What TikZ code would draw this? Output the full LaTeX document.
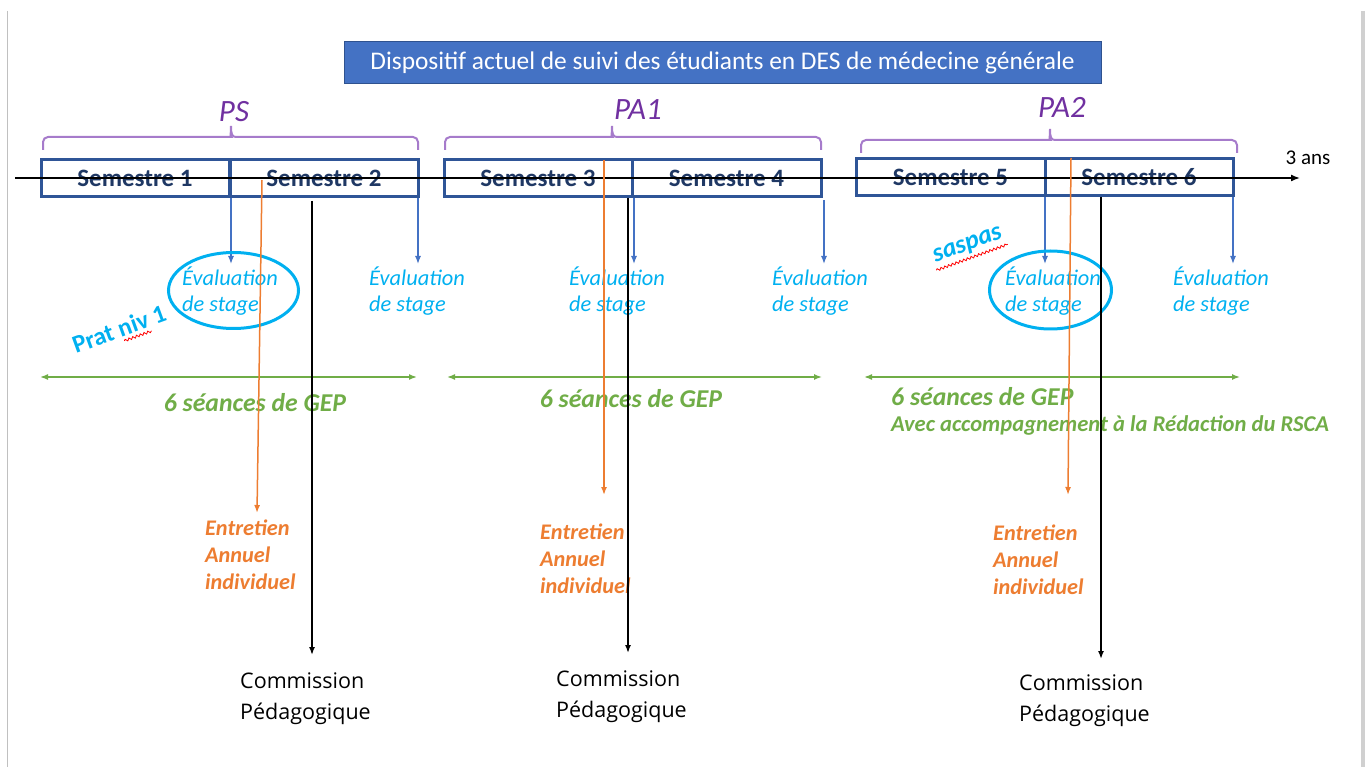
\documentclass[tikz,border=0pt]{standalone}
\usepackage{fontspec}
\setmainfont{Carlito}
\newfontfamily\osans{Open Sans}
\usetikzlibrary{arrows.meta,decorations.pathmorphing,shapes.geometric}
\definecolor{titleblue}{HTML}{4472C4}
\definecolor{titleborder}{HTML}{2F528F}
\definecolor{boxblue}{HTML}{2F5597}
\definecolor{semtext}{HTML}{1F3864}
\definecolor{purpletext}{HTML}{7030A0}
\definecolor{bracecol}{HTML}{A67BCB}
\definecolor{cyanc}{HTML}{00B0F0}
\definecolor{orangec}{HTML}{ED7D31}
\definecolor{greenc}{HTML}{70AD47}
\definecolor{arrblue}{HTML}{4472C4}
\definecolor{framegray}{HTML}{D0D0D0}
\tikzset{
  sem/.style={draw=boxblue, line width=3, minimum height=37, minimum width=188, inner sep=0,
    font=\fontsize{25}{28}\selectfont\bfseries, text=semtext},
  evtext/.style={anchor=west, align=left, inner sep=0, text=cyanc, font=\fontsize{22.4}{26}\selectfont\itshape},
  entext/.style={anchor=west, align=left, inner sep=0, text=orangec, font=\fontsize{22.3}{27}\selectfont\bfseries\itshape},
  comtext/.style={anchor=west, align=left, inner sep=0, text=black, font=\osans\fontsize{21.5}{31}\selectfont},
  geptext/.style={inner sep=0, text=greenc, font=\fontsize{25.7}{28}\selectfont\bfseries\itshape},
  phase/.style={inner sep=0, text=purpletext, font=\fontsize{31}{34}\selectfont\itshape},
  bluearr/.style={draw=arrblue, line width=1.3, -{Latex[length=8,width=6]}},
  orangearr/.style={draw=orangec, line width=1.5, -{Latex[length=8,width=6]}},
  blackarr/.style={draw=black, line width=1.5, -{Latex[length=8,width=6]}},
  greenarr/.style={draw=greenc, line width=1.5, {Latex[length=8,width=6]}-{Latex[length=8,width=6]}},
  bracepath/.style={draw=bracecol, line width=2},
  circ/.style={draw=cyanc, line width=3, ellipse, inner sep=0},
  wavy/.style={draw=red, line width=0.8, decorate, decoration={snake, amplitude=1.2, segment length=4}},
}
\newcommand{\phbrace}[4]{% x1, x2, xc, y
  \draw[bracepath] (#1,#4+13) [rounded corners=5] -- (#1,#4) -- (#3-5,#4) [sharp corners]
    .. controls (#3-1,#4) and (#3,#4-3) .. (#3,#4-11)
    .. controls (#3,#4-3) and (#3+1,#4) .. (#3+5,#4) [rounded corners=5] -- (#2,#4) -- (#2,#4+13);}
\begin{document}
\begin{tikzpicture}[x=1pt,y=-1pt]
\useasboundingbox (0,0) rectangle (1369,767);
% frame
\draw[framegray!80!gray, line width=1.5] (7.5,11) -- (7.5,767);
\draw[framegray, line width=4] (1363,11) -- (1363,767);
% title
\node[fill=titleblue, draw=titleborder, line width=1, minimum width=757, minimum height=42, inner sep=0,
  text=white, font=\fontsize{25.4}{27}\selectfont] (title) at (722.5,63)
  {Dispositif actuel de suivi des étudiants en DES de médecine générale};
% phase labels and braces
\node[phase] (ps) at (234,112) {PS};
\node[phase] (pa1) at (638,110) {PA1};
\node[phase] (pa2) at (1062,107) {PA2};
\phbrace{43}{418}{231}{137}
\phbrace{445}{821}{612}{137}
\phbrace{861}{1237}{1050}{140}
% semester boxes
\node[sem] (s1) at (135,178) {Semestre 1};
\node[sem] (s2) at (324,178.5) {Semestre 2};
\node[sem] (s3) at (538,178.5) {Semestre 3};
\node[sem, minimum width=189] (s4) at (726.5,178.5) {Semestre 4};
\node[sem, minimum width=189] (s5) at (950.5,177) {Semestre 5};
\node[sem] (s6) at (1139,177) {Semestre 6};
% time axis
\coordinate (ax0) at (15,178);
\coordinate (ax1) at (1300,178);
\draw[line width=1.5, -{Latex[length=9,width=7]}] (ax0) -- (ax1);
\node[inner sep=0, font=\fontsize{21}{23}\selectfont] (ans) at (1308,158) {3 ans};
% evaluation texts
\node[evtext] (e1) at (182,291) {Évaluation\\de stage};
\node[evtext] (e2) at (369,291) {Évaluation\\de stage};
\node[evtext] (e3) at (569,291) {Évaluation\\de stage};
\node[evtext] (e4) at (772,291) {Évaluation\\de stage};
\node[evtext] (e5) at (1005,291) {Évaluation\\de stage};
\node[evtext] (e6) at (1173,291) {Évaluation\\de stage};
% blue arrows
\coordinate (b1a) at (231,198); \coordinate (b1b) at (231,264);
\coordinate (b2a) at (418,198); \coordinate (b2b) at (418,264);
\coordinate (b3a) at (634,198); \coordinate (b3b) at (634,264);
\coordinate (b4a) at (824,200); \coordinate (b4b) at (824,264);
\coordinate (b5a) at (1045,197); \coordinate (b5b) at (1045,264);
\coordinate (b6a) at (1233,197); \coordinate (b6b) at (1233,264);
\foreach \i in {1,...,6} {\draw[bluearr] (b\i a) -- (b\i b);}
% circles
\node[circ, minimum width=130, minimum height=76] (c1) at (233.5,290.5) {};
\node[circ, minimum width=122, minimum height=78] (c2) at (1050.5,290) {};
% rotated notes
\begin{scope}[shift={(119,329)}, rotate=20]
  \node[rotate=20, inner sep=0, text=cyanc, font=\fontsize{25}{28}\selectfont\bfseries] (prat) at (0,0) {Prat niv 1};
  \draw[wavy] (1,13) -- (30,13);
\end{scope}
\begin{scope}[shift={(968,246)}, rotate=20]
  \node[rotate=20, inner sep=0, text=cyanc, font=\fontsize{26}{28}\selectfont\itshape\bfseries] (sasp) at (0,0) {saspas};
  \draw[wavy] (-38,12) -- (38,12);
\end{scope}
% GEP
\coordinate (g1a) at (40,377); \coordinate (g1b) at (417,377);
\coordinate (g2a) at (447,377); \coordinate (g2b) at (822,377);
\coordinate (g3a) at (864,377); \coordinate (g3b) at (1240,377);
\foreach \i in {1,2,3} {\draw[greenarr] (g\i a) -- (g\i b);}
\node[geptext] (gep1) at (255,403) {6 séances de GEP};
\node[geptext] (gep2) at (631,399) {6 séances de GEP};
\node[geptext, anchor=west] (gep3) at (891,397) {6 séances de GEP};
\node[geptext, anchor=west, font=\fontsize{22.6}{24}\selectfont\bfseries\itshape] (rsca) at (891,425) {Avec accompagnement à la Rédaction du RSCA};
% orange arrows
\coordinate (o1a) at (262,180); \coordinate (o1b) at (257,513);
\coordinate (o2a) at (604,160); \coordinate (o2b) at (604,495);
\coordinate (o3a) at (1071,158); \coordinate (o3b) at (1068,495);
\foreach \i in {1,2,3} {\draw[orangearr] (o\i a) -- (o\i b);}
\node[entext] (en1) at (205,555) {Entretien\\Annuel\\individuel};
\node[entext] (en2) at (540,559) {Entretien\\Annuel\\individuel};
\node[entext] (en3) at (993,560) {Entretien\\Annuel\\individuel};
% black arrows
\coordinate (k1a) at (312,201); \coordinate (k1b) at (312,655);
\coordinate (k2a) at (628,198); \coordinate (k2b) at (628,653);
\coordinate (k3a) at (1101,197); \coordinate (k3b) at (1101,659);
\foreach \i in {1,2,3} {\draw[blackarr] (k\i a) -- (k\i b);}
\node[comtext] (cp1) at (240,699) {Commission\\Pédagogique};
\node[comtext] (cp2) at (556,697) {Commission\\Pédagogique};
\node[comtext] (cp3) at (1019,701) {Commission\\Pédagogique};
\end{tikzpicture}
\end{document}
